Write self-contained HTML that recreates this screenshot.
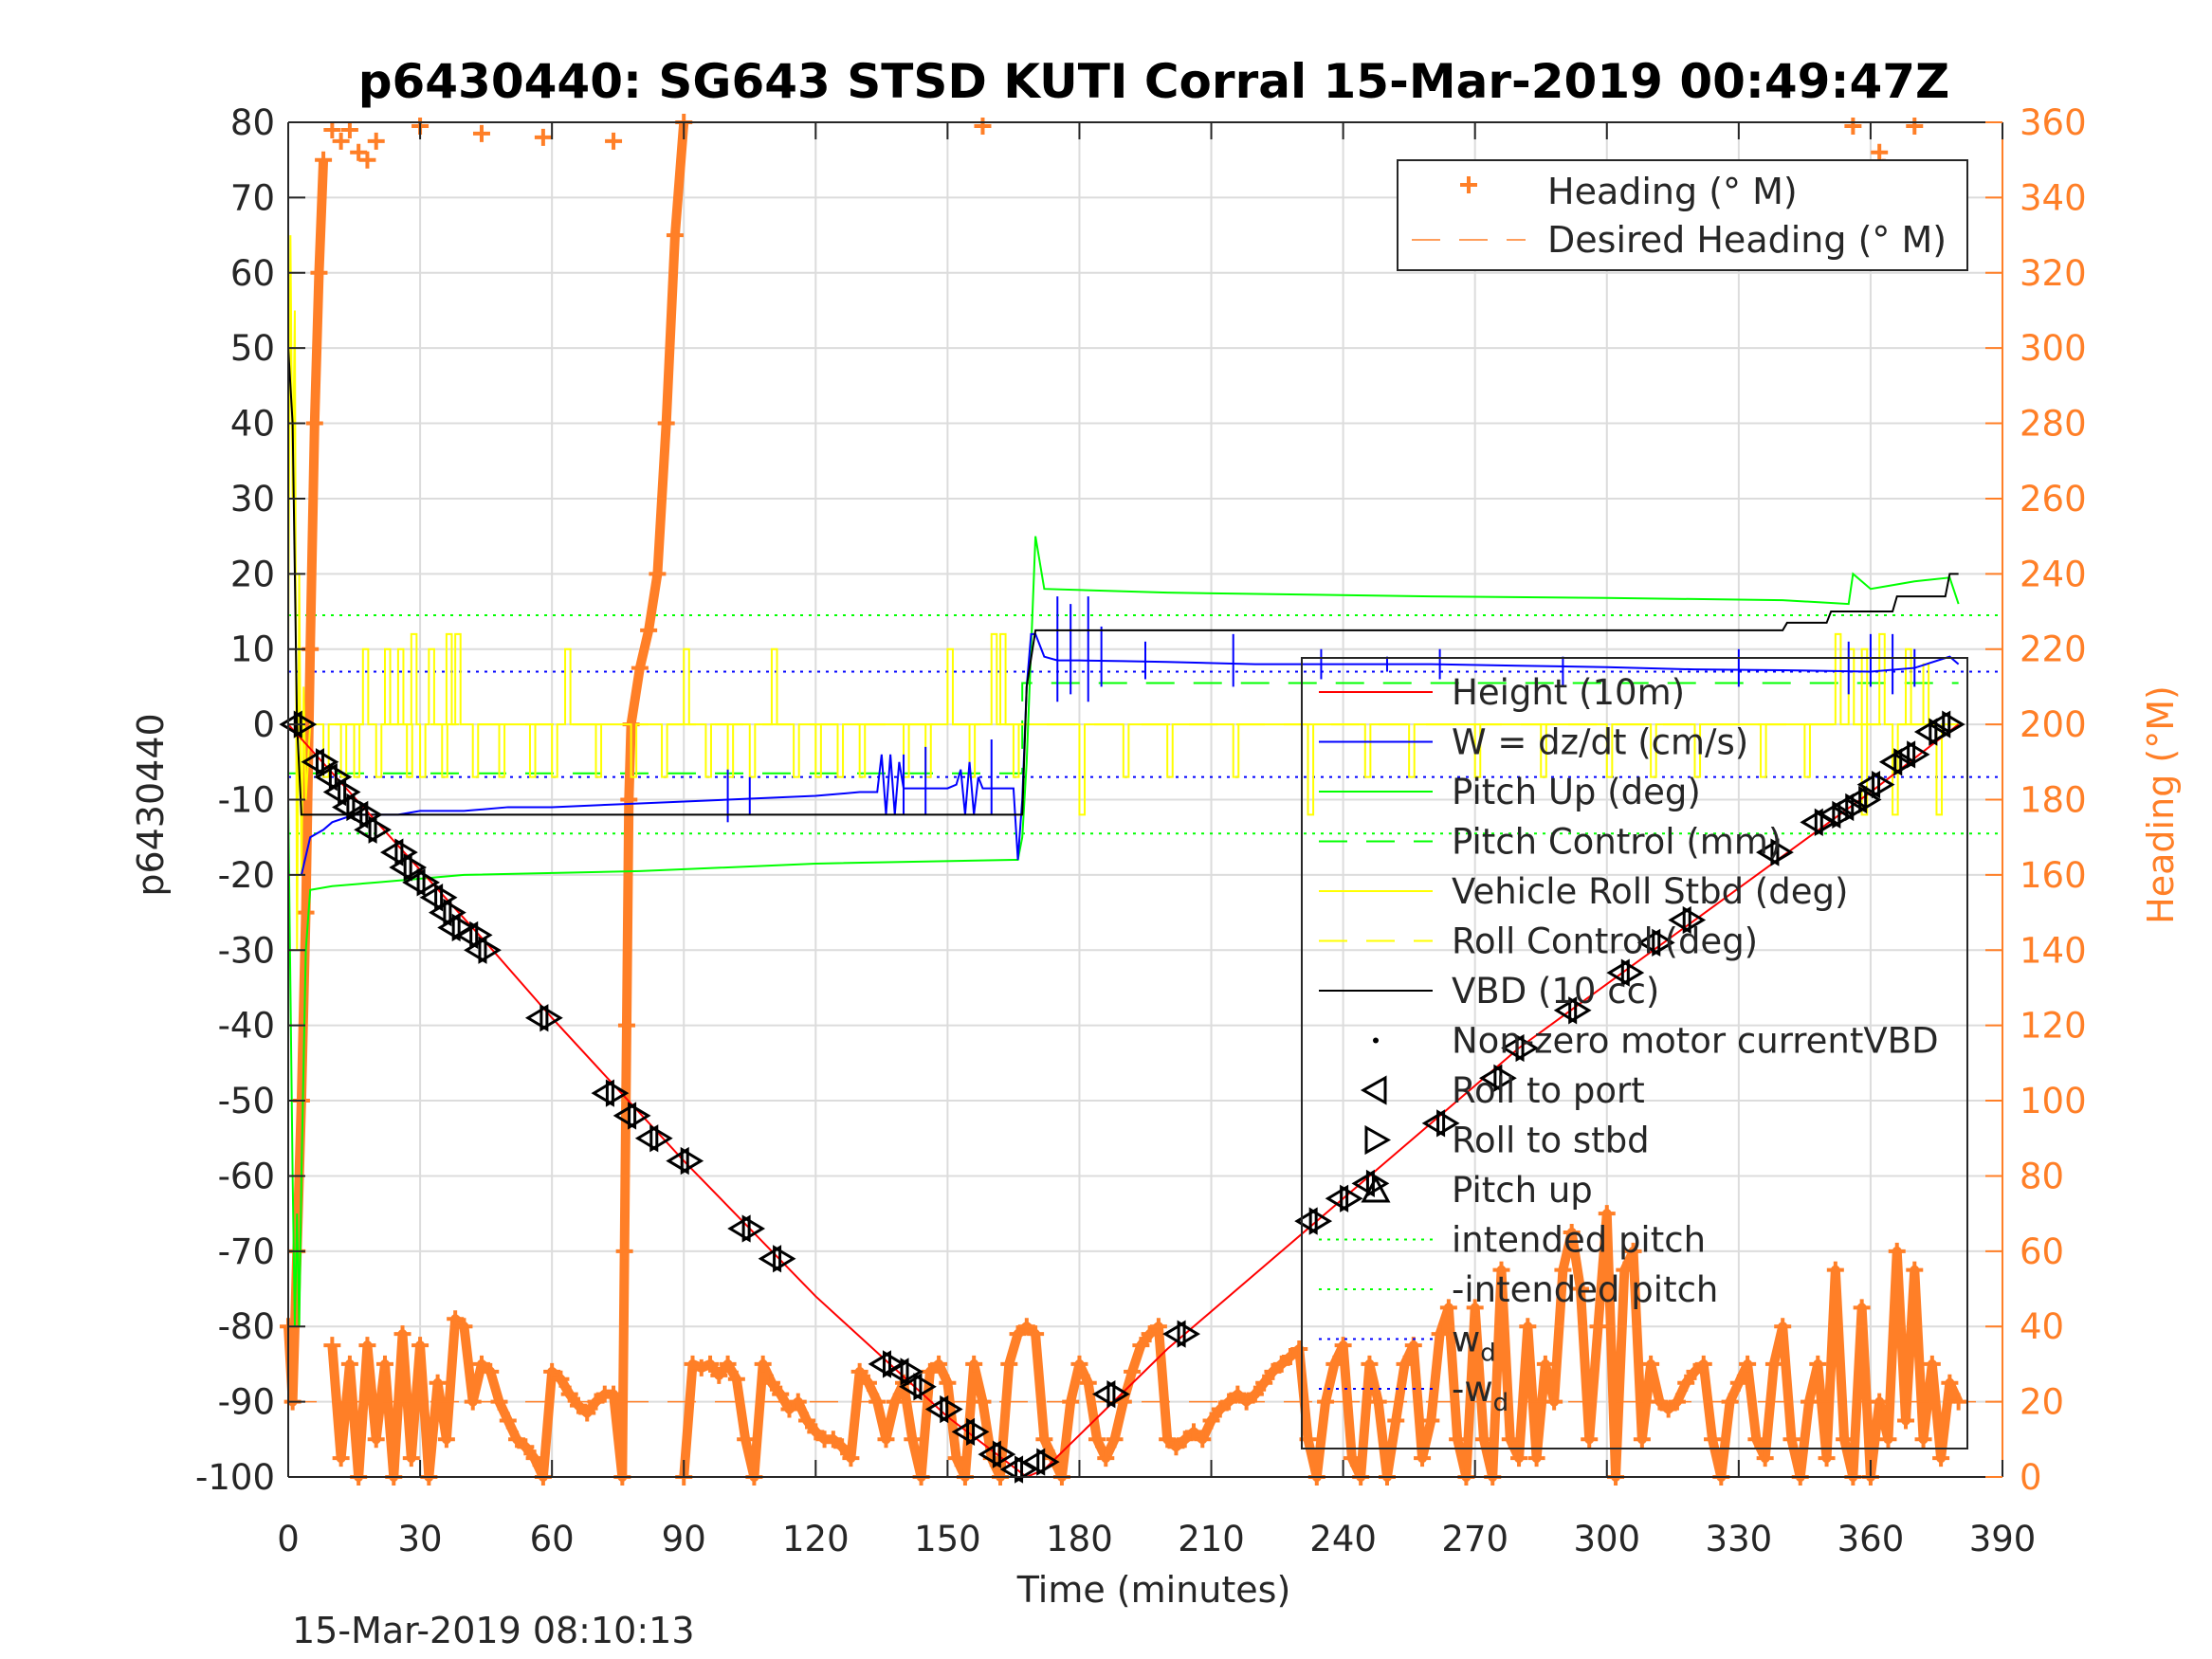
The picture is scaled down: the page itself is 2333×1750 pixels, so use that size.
<!DOCTYPE html>
<html><head><meta charset="utf-8"><style>
html,body{margin:0;padding:0;background:#fff;}
svg{display:block;font-family:"DejaVu Sans","Liberation Sans",sans-serif;}
</style></head><body>
<svg id="chart" width="2333" height="1750" viewBox="0 0 2333 1750" xmlns="http://www.w3.org/2000/svg">
<rect x="0" y="0" width="2333" height="1750" fill="#fff"/>
<text x="1217" y="103" text-anchor="middle" font-size="50" font-weight="bold">p6430440: SG643 STSD KUTI Corral 15-Mar-2019 00:49:47Z</text>
<text x="1217" y="1690" text-anchor="middle" font-size="38" fill="#262626">Time (minutes)</text>
<text x="308" y="1733" font-size="38" fill="#262626">15-Mar-2019 08:10:13</text>
<text x="0" y="0" transform="translate(172,849) rotate(-90)" text-anchor="middle" font-size="38" fill="#262626">p6430440</text>
<text x="0" y="0" transform="translate(2292,849) rotate(-90)" text-anchor="middle" font-size="38" fill="#ff7f27">Heading (°M)</text>
<g id="grid"></g>
<g id="plot"></g>
<g id="axes"></g>
<g id="legends"></g>
</svg>
<script>
// ---- data ----
const xTicks=[0,30,60,90,120,150,180,210,240,270,300,330,360,390];
const yTicks=[80,70,60,50,40,30,20,10,0,-10,-20,-30,-40,-50,-60,-70,-80,-90,-100];
const hTicks=[0,20,40,60,80,100,120,140,160,180,200,220,240,260,280,300,320,340,360];
const depthT=[0,45,60,90,120,150,168,172,200,240,280,320,360,380];
const depthV=[0,-29,-39,-58,-76,-92,-100,-99,-83,-63,-43,-26,-9,0];
const vbdT=[0,1,2,3,167,168,170,340,341,350,351,365,366,377,378,380];
const vbdV=[50,40,0,-12,-12,5,12.5,12.5,13.5,13.5,15,15,17,17,20,20];
const pitchT=[0,1,1.5,2,2.5,3,4,5,10,20,40,80,120,165,166,167,168,169,170,172,200,260,300,340,355,356,360,365,370,378,380];
const pitchV=[-10,-60,-80,-65,-80,-60,-30,-22,-21.5,-21,-20,-19.5,-18.5,-18,-18,-15,-5,10,25,18,17.5,17,16.8,16.5,16,20,18,18.5,19,19.5,16];
const wT=[3,5,8,10,15,20,25,30,40,50,60,80,100,120,130,134,135,136,137,138,139,140,150,152,153,154,155,156,157,158,160,165,166,167,168,169,170,172,175,180,190,200,220,240,260,280,300,320,340,360,370,378,380];
const wV=[-20,-15,-14,-13,-12,-12,-12,-11.5,-11.5,-11,-11,-10.5,-10,-9.5,-9,-9,-4,-12,-4,-12,-5,-8.5,-8.5,-8,-6,-12,-5,-12,-7,-8.5,-8.5,-8.5,-18,-10,5,12,12,9,8.5,8.5,8.4,8.3,8,8,8,7.8,7.6,7.3,7.2,7,7.5,9,8];
const wSpikeT=[100,105,140,145,160,175,178,182,185,195,215,235,250,262,290,330,355,360,365,370];
const wSpikeTop=[-6,-7,-4,-3,-2,17,16,17,13,11,12,10,9,10,9,10,11,12,12,10];
const wSpikeBot=[-13,-12,-12,-12,-12,3,4,3,5,6,5,6,7,6,5,5,4,5,4,5];
const rollT=[0,0.5,1,1.5,2,2.5,3,3.5,4,5,6];
const rollV=[10,65,30,55,-30,20,-20,5,-10,0,0];
const rollUpT=[17,22,25,28,32,36,38,63,90,110,150,160,162,352,355,358,362,368,372];
const rollUpV=[10,10,10,12,10,12,12,10,10,10,10,12,12,12,10,10,12,10,8];
const rollDnT=[8,12,15,20,27,30,35,42,48,55,60,70,78,85,95,100,105,115,120,125,130,140,145,155,165,180,190,200,215,232,245,255,270,285,300,310,320,335,345,358,365,375];
const rollDnV=[-7,-7,-7,-7,-7,-7,-7,-7,-7,-7,-7,-7,-7,-7,-7,-7,-7,-7,-7,-7,-7,-7,-7,-7,-7,-12,-7,-7,-7,-12,-7,-7,-7,-7,-7,-7,-7,-7,-7,-12,-12,-12];
const pitchCtlT=[0,167,167,380];
const pitchCtlV=[-6.5,-6.5,5.5,5.5];
const intendedPitch=14.5;
const wd=7;
const markT=[2,7,10,12,14,17,19,25,27,30,34,36,38,42,44,58,73,78,83,90,104,111,136,140,143,149,155,161,166,171,187,203,233,240,246,262,275,280,292,304,311,318,338,348,352,355,358,361,366,369,374,377];
const markV=[0,-5,-7,-9,-11,-12,-14,-17,-19,-21,-23,-25,-27,-28,-30,-39,-49,-52,-55,-58,-67,-71,-85,-86,-88,-91,-94,-97,-99,-98,-89,-81,-66,-63,-61,-53,-47,-43,-38,-33,-29,-26,-17,-13,-12,-11,-10,-8,-5,-4,-1,0];
const headT=[0,1,2,3,4,5,6,7,8,null,10,12,14,16,18,20,22,24,26,28,30,32,34,36,38,40,42,44,46,48,50,52,54,56,58,60,62,64,66,68,70,72,74,76,76.5,77,77.5,78,80,82,84,86,88,90,null,90,92,94,96,98,100,102,104,106,108,110,112,114,116,118,120,122,124,126,128,130,132,134,136,138,140,142,144,146,148,150,152,154,156,158,160,162,164,166,168,170,172,174,176,178,180,182,184,186,188,190,192,194,196,198,200,202,204,206,208,210,212,214,216,218,220,222,224,226,228,230,232,234,236,238,240,242,244,246,248,250,252,254,256,258,260,262,264,266,268,270,272,274,276,278,280,282,284,286,288,290,292,294,296,298,300,302,304,306,308,310,312,314,316,318,320,322,324,326,328,330,332,334,336,338,340,342,344,346,348,350,352,354,356,358,360,362,364,366,368,370,372,374,376,378,380];
const headV=[40,20,60,100,150,220,280,320,350,null,35,5,30,0,35,10,30,0,38,5,35,0,25,10,42,40,20,30,28,20,15,10,8,5,0,28,26,22,19,17,20,22,22,0,60,120,180,200,215,225,240,280,330,360,null,0,30,29,30,27,30,26,10,0,30,25,22,18,20,15,12,10,10,8,5,28,25,20,10,20,25,10,0,28,30,25,5,0,30,20,5,0,30,38,40,38,10,5,0,20,30,25,10,5,10,20,28,35,38,40,10,8,10,12,10,15,18,20,22,20,22,25,28,30,32,34,10,0,20,30,35,5,0,30,20,0,15,30,35,5,15,38,45,10,0,45,10,0,55,10,5,40,5,30,20,55,65,50,10,40,70,0,55,60,10,30,20,18,20,25,28,30,10,0,20,25,30,10,5,30,40,10,0,20,30,5,55,10,0,45,0,20,10,60,15,55,10,30,5,25,20];
const headTopT=[10,12,14,16,18,20,30,44,58,74,158,356,362,363,370];
const headTopV=[358,355,358,352,350,355,359,357,356,355,359,359,352,348,359];

// ---- scales ----
const L=304,R=2112,T=129,B=1558;
const X=t=>L+t*(R-L)/390;
const Y=v=>T+(80-v)*(B-T)/180;
const H=h=>Y(-100+h/2);
const NS='http://www.w3.org/2000/svg';
function mk(parent,tag,attrs,name){
  const el=document.createElementNS(NS,tag);
  for(const k in attrs) el.setAttribute(k,attrs[k]);
  
  
  parent.appendChild(el);return el;
}
const grid=document.getElementById('grid'),plot=document.getElementById('plot'),axes=document.getElementById('axes'),leg=document.getElementById('legends');
xTicks.forEach(t=>mk(grid,'line',{x1:X(t),x2:X(t),y1:T,y2:B,stroke:'#dcdcdc','stroke-width':2},'x-gridline'));
yTicks.forEach(v=>mk(grid,'line',{x1:L,x2:R,y1:Y(v),y2:Y(v),stroke:'#dcdcdc','stroke-width':2},'y-gridline'));

function pts(ts,vs,f){return ts.map((t,i)=>X(t)+','+f(vs[i])).join(' ');}
function line(ts,vs,style,name){mk(plot,'polyline',Object.assign({points:pts(ts,vs,Y),fill:'none'},style),name);}

mk(plot,'line',{x1:L,x2:R,y1:Y(intendedPitch),y2:Y(intendedPitch),stroke:'#00ff00','stroke-width':2,'stroke-dasharray':'3,6'},'intended-pitch-line');
mk(plot,'line',{x1:L,x2:R,y1:Y(-intendedPitch),y2:Y(-intendedPitch),stroke:'#00ff00','stroke-width':2,'stroke-dasharray':'3,6'},'neg-intended-pitch-line');
mk(plot,'line',{x1:L,x2:R,y1:Y(wd),y2:Y(wd),stroke:'#0000ff','stroke-width':2,'stroke-dasharray':'3,6'},'wd-line');
mk(plot,'line',{x1:L,x2:R,y1:Y(-wd),y2:Y(-wd),stroke:'#0000ff','stroke-width':2,'stroke-dasharray':'3,6'},'neg-wd-line');
line(pitchCtlT,pitchCtlV,{stroke:'#00ff00','stroke-width':2,'stroke-dasharray':'30,20'},'pitch-control-line');
mk(plot,'line',{x1:X(0),x2:X(380),y1:Y(0),y2:Y(0),stroke:'#ffff00','stroke-width':2,'stroke-dasharray':'30,20'},'roll-control-line');

let seg=[];const segs=[];
headT.forEach((t,i)=>{if(t===null){segs.push(seg);seg=[];}else seg.push([t,headV[i]]);});segs.push(seg);
segs.forEach(s=>mk(plot,'polyline',{points:s.map(p=>X(p[0])+','+H(p[1])).join(' '),fill:'none',stroke:'#ff7f27','stroke-width':10,'stroke-linejoin':'round'},'heading-band'));
function cross(t,h){mk(plot,'path',{d:`M${X(t)-9},${H(h)}h18M${X(t)},${H(h)-9}v18`,stroke:'#ff7f27','stroke-width':4},'heading-marker');}
headT.forEach((t,i)=>{if(t!==null)cross(t,headV[i]);});
headTopT.forEach((t,i)=>cross(t,headTopV[i]));
mk(plot,'line',{x1:L,x2:R,y1:H(20),y2:H(20),stroke:'#ff7f27','stroke-width':1.5,'stroke-dasharray':'30,20'},'desired-heading-line');

const rT=rollT.slice(),rV=rollV.slice();
const ev=[];rollUpT.forEach((t,i)=>ev.push([t,rollUpV[i]]));rollDnT.forEach((t,i)=>ev.push([t,rollDnV[i]]));
ev.sort((a,b)=>a[0]-b[0]);
ev.forEach(e=>{rT.push(e[0],e[0],e[0]+1.2,e[0]+1.2);rV.push(0,e[1],e[1],0);});
rT.push(380);rV.push(0);
line(rT,rV,{stroke:'#ffff00','stroke-width':2},'vehicle-roll-line');
line(pitchT,pitchV,{stroke:'#00ff00','stroke-width':2},'pitch-line');
line(wT,wV,{stroke:'#0000ff','stroke-width':2},'w-line');
wSpikeT.forEach((t,i)=>mk(plot,'line',{x1:X(t),x2:X(t),y1:Y(wSpikeTop[i]),y2:Y(wSpikeBot[i]),stroke:'#0000ff','stroke-width':2},'w-spike'));
line(vbdT,vbdV,{stroke:'#000','stroke-width':2},'vbd-line');
line(depthT,depthV,{stroke:'#ff0000','stroke-width':2},'height-line');
markT.forEach((t,i)=>{
  const x=X(t),y=Y(markV[i]);
  mk(plot,'path',{d:`M${x+4},${y-12}L${x-16},${y}L${x+4},${y+12}Z`,fill:'none',stroke:'#000','stroke-width':3},'roll-port-marker');
  mk(plot,'path',{d:`M${x-2},${y-12}L${x+18},${y}L${x-2},${y+12}Z`,fill:'none',stroke:'#000','stroke-width':3},'roll-stbd-marker');
});

mk(axes,'line',{x1:L,x2:L,y1:T,y2:B,stroke:'#262626','stroke-width':2},'y-axis-line');
mk(axes,'line',{x1:L,x2:R,y1:B,y2:B,stroke:'#262626','stroke-width':2},'x-axis-line');
mk(axes,'line',{x1:L,x2:R,y1:T,y2:T,stroke:'#262626','stroke-width':2},'top-border');
mk(axes,'line',{x1:R,x2:R,y1:T,y2:B,stroke:'#ff7f27','stroke-width':2},'right-axis-line');
xTicks.forEach(t=>{
  mk(axes,'line',{x1:X(t),x2:X(t),y1:B,y2:B-18,stroke:'#262626','stroke-width':2},'x-tick');
  mk(axes,'line',{x1:X(t),x2:X(t),y1:T,y2:T+18,stroke:'#262626','stroke-width':2},'x-tick-top');
  const tx=mk(axes,'text',{x:X(t),y:1636,'text-anchor':'middle','font-size':37,fill:'#262626'},'x-tick-label');tx.textContent=t;
});
yTicks.forEach(v=>{
  mk(axes,'line',{x1:L,x2:L+18,y1:Y(v),y2:Y(v),stroke:'#262626','stroke-width':2},'y-tick');
  const tx=mk(axes,'text',{x:L-14,y:Y(v)+13,'text-anchor':'end','font-size':37,fill:'#262626'},'y-tick-label');tx.textContent=v;
});
hTicks.forEach(h=>{
  mk(axes,'line',{x1:R,x2:R-18,y1:H(h),y2:H(h),stroke:'#ff7f27','stroke-width':2},'right-tick');
  const tx=mk(axes,'text',{x:R+18,y:H(h)+13,'font-size':37,fill:'#ff7f27'},'right-tick-label');tx.textContent=h;
});

mk(leg,'rect',{x:1474,y:169,width:601,height:116,fill:'#fff',stroke:'#262626','stroke-width':2},'heading-legend-box');
mk(leg,'path',{d:'M1540,195h18M1549,186v18',stroke:'#ff7f27','stroke-width':4},'legend-heading-marker');
mk(leg,'line',{x1:1489,x2:1609,y1:253,y2:253,stroke:'#ff7f27','stroke-width':1.5,'stroke-dasharray':'30,20'},'legend-desired-heading-line');
let t1=mk(leg,'text',{x:1632,y:215,'font-size':38,fill:'#262626'},'legend-heading-label');t1.textContent='Heading (° M)';
let t2=mk(leg,'text',{x:1632,y:266,'font-size':38,fill:'#262626'},'legend-desired-heading-label');t2.textContent='Desired Heading (° M)';

mk(leg,'rect',{x:1373,y:694,width:702,height:834,fill:'none',stroke:'#262626','stroke-width':2},'series-legend-box');
const labels=['Height (10m)','W = dz/dt (cm/s)','Pitch Up (deg)','Pitch Control (mm)','Vehicle Roll Stbd (deg)','Roll Control (deg)','VBD (10 cc)','Non-zero motor currentVBD','Roll to port','Roll to stbd','Pitch up','intended pitch','-intended pitch','w','-w'];
const styles=[['#ff0000',''],['#0000ff',''],['#00ff00',''],['#00ff00','30,20'],['#ffff00',''],['#ffff00','30,20'],['#000',''],null,null,null,null,['#00ff00','3,6'],['#00ff00','3,6'],['#0000ff','3,6'],['#0000ff','3,6']];
labels.forEach((lab,i)=>{
  const y=730+i*52.5;
  const s=styles[i];
  if(s){const a={x1:1391,x2:1511,y1:y,y2:y,stroke:s[0],'stroke-width':2};if(s[1])a['stroke-dasharray']=s[1];mk(leg,'line',a,'legend-line');}
  else if(i===7){mk(leg,'circle',{cx:1451,cy:y,r:3,fill:'#000'},'legend-dot');}
  else if(i===8){mk(leg,'path',{d:`M1461,${y-13}L1438,${y}L1461,${y+13}Z`,fill:'none',stroke:'#000','stroke-width':3},'legend-port-marker');}
  else if(i===9){mk(leg,'path',{d:`M1441,${y-13}L1464,${y}L1441,${y+13}Z`,fill:'none',stroke:'#000','stroke-width':3},'legend-stbd-marker');}
  else if(i===10){mk(leg,'path',{d:`M1438,${y+12}L1451,${y-12}L1464,${y+12}Z`,fill:'none',stroke:'#000','stroke-width':3},'legend-pitchup-marker');}
  const tx=mk(leg,'text',{x:1531,y:y+13,'font-size':37,fill:'#262626'},'legend-label');
  tx.textContent=lab;
  if(i>=13){const sub=document.createElementNS(NS,'tspan');sub.setAttribute('font-size','26');sub.setAttribute('dy','10');sub.textContent='d';tx.appendChild(sub);}
});
</script>
</body></html>
